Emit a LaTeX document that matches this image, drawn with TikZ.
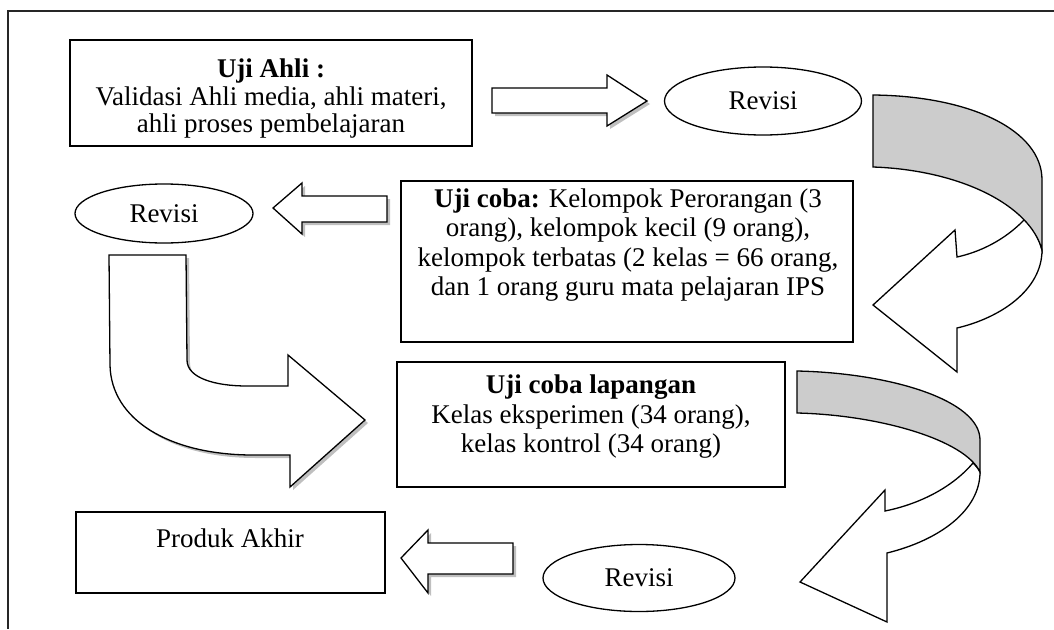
\documentclass[tikz,border=0pt]{standalone}
\usepackage{fontspec}
\setmainfont{Liberation Serif}
\usetikzlibrary{shapes.geometric}
\begin{document}
\begin{tikzpicture}[x=1pt,y=-1pt,line join=miter,
  box/.style={draw,line width=1.4pt,inner sep=0pt},
  oval/.style={ellipse,draw,line width=1.3pt,inner sep=0pt},
  txt/.style={align=center,inner sep=0pt,font=\fontsize{27}{29.5}\selectfont},
  txtb/.style={txt,font=\fontsize{27}{27.5}\selectfont},
  blk/.style={draw,line width=1.3pt,fill=white},
  shd/.style={fill=black!25,draw=none,xshift=3pt,yshift=-3pt},
  band/.style={draw,line width=1.3pt,fill=black!20},
  frame/.style={draw=black!85,line width=1.6pt}]
\useasboundingbox (0,0) rectangle (1054,629);
% outer frame
\coordinate (f1) at (1054,11);
\coordinate (f2) at (8,11);
\coordinate (f3) at (8,629);
\draw[frame] (f1) -- (f2) -- (f3);
% boxes
\node[box,minimum width=402pt,minimum height=106pt] (ahli) at (271,93) {};
\node[txtb] (ahlit) at (271,99) {\textbf{Uji Ahli :}\\Validasi Ahli media, ahli materi,\\ahli proses pembelajaran};
\node[box,minimum width=452pt,minimum height=161pt] (coba) at (627,261.5) {};
\node[txt] (cobat) at (628,245) {\textbf{Uji coba:} Kelompok Perorangan (3\\orang), kelompok kecil (9 orang),\\kelompok terbatas (2 kelas = 66 orang,\\dan 1 orang guru mata pelajaran IPS};
\node[box,minimum width=388pt,minimum height=125pt] (lap) at (591,424.5) {};
\node[txt] (lapt) at (591,417) {\textbf{Uji coba lapangan}\\Kelas eksperimen (34 orang),\\kelas kontrol (34 orang)};
\node[box,minimum width=309pt,minimum height=81pt] (akhir) at (230.5,552.5) {};
\node[txt] (akhirt) at (230,538) {Produk Akhir};
% ellipses
\node[oval,minimum width=197pt,minimum height=68pt,txt] (rev1) at (763,101) {Revisi};
\node[oval,minimum width=178pt,minimum height=59pt,txt] (rev2) at (164,213.5) {Revisi};
\node[oval,minimum width=192pt,minimum height=67pt,txt] (rev3) at (639,578) {Revisi};
% straight block arrows
\path[shd] (492,88) -- (607,88) -- (607,75) -- (647,101) -- (607,126) -- (607,113) -- (492,113) -- cycle;
\path[blk] (492,88) -- (607,88) -- (607,75) -- (647,101) -- (607,126) -- (607,113) -- (492,113) -- cycle;
\path[shd] (387,196) -- (302,196) -- (302,183) -- (273,208) -- (302,234) -- (302,222) -- (387,222) -- cycle;
\path[blk] (387,196) -- (302,196) -- (302,183) -- (273,208) -- (302,234) -- (302,222) -- (387,222) -- cycle;
\path[shd] (513,543) -- (428,543) -- (428,530) -- (401,558) -- (428,593) -- (428,574) -- (513,574) -- cycle;
\path[blk] (513,543) -- (428,543) -- (428,530) -- (401,558) -- (428,593) -- (428,574) -- (513,574) -- cycle;
% L-shaped arrow
\path[shd] (109,255) -- (186,255) -- (187,360) .. controls (187,378) and (215,386) .. (247,386) -- (288,386) -- (288,355) -- (365,420) -- (290,487) -- (290,455) -- (253,455) .. controls (170,455) and (111,420) .. (110,365) -- cycle;
\path[blk] (109,255) -- (186,255) -- (187,360) .. controls (187,378) and (215,386) .. (247,386) -- (288,386) -- (288,355) -- (365,420) -- (290,487) -- (290,455) -- (253,455) .. controls (170,455) and (111,420) .. (110,365) -- cycle;
% curved arrow 1
\path[blk] (1025,219) .. controls (1005,240) and (980,252) .. (957,257) -- (955,230) -- (873,305) -- (957,372) -- (957,328) .. controls (1000,318) and (1042,290) .. (1042,250) .. controls (1039,238) and (1033,228) .. (1025,219) -- cycle;
\path[band] (873,95) .. controls (970,96) and (1042,130) .. (1042,180) -- (1042,250) .. controls (1030,205) and (960,170) .. (873,167) -- cycle;
% curved arrow 2
\path[blk] (973,463) .. controls (950,490) and (915,505) .. (885,511) -- (885,490) -- (800,582) -- (887,622) -- (887,553) .. controls (940,540) and (980,510) .. (980,472) .. controls (978,468) and (976,466) .. (973,463) -- cycle;
\path[band] (797,371) .. controls (890,373) and (980,400) .. (980,440) -- (980,472) .. controls (965,440) and (880,415) .. (797,413) -- cycle;
\end{tikzpicture}
\end{document}
